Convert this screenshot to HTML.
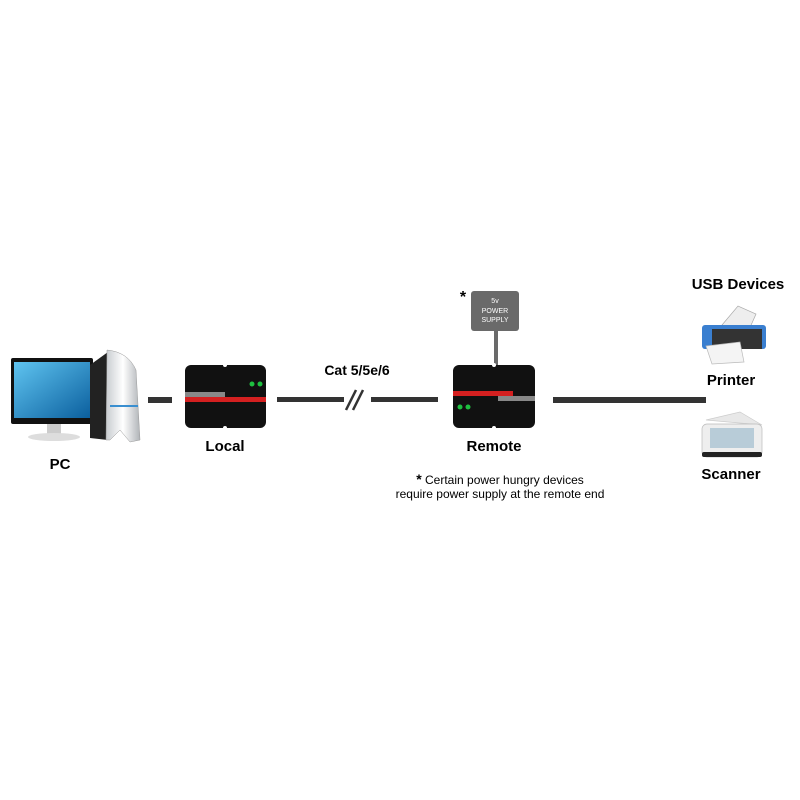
<!DOCTYPE html>
<html><head><style>
body{margin:0;background:#fff;}
svg{display:block;font-family:"Liberation Sans",sans-serif;}
</style></head><body>
<svg width="800" height="800" viewBox="0 0 800 800">
<defs>
<linearGradient id="scr" x1="0" y1="0" x2="1" y2="1"><stop offset="0" stop-color="#5fc4f0"/><stop offset="1" stop-color="#0b5f9e"/></linearGradient>
<linearGradient id="tw" x1="0" y1="0" x2="1" y2="0"><stop offset="0" stop-color="#c8ccd0"/><stop offset="0.5" stop-color="#fff"/><stop offset="1" stop-color="#b0b4b8"/></linearGradient>
</defs>
<!-- PC -->
<rect x="11" y="358" width="82" height="66" rx="2" fill="#111"/>
<rect x="14" y="362" width="76" height="56" fill="url(#scr)"/>
<rect x="47" y="424" width="14" height="10" fill="#ccc"/>
<ellipse cx="54" cy="437" rx="26" ry="4" fill="#ddd"/>
<path d="M90 365 L108 352 L108 440 L90 438Z" fill="#222"/>
<path d="M107 350 Q128 352 136 370 L140 440 L130 442 L120 430 L110 440 L106 440Z" fill="url(#tw)" stroke="#999" stroke-width="0.5"/>
<rect x="110" y="405" width="28" height="2" fill="#3a8fd0"/>
<text x="60" y="469" font-size="15" font-weight="bold" text-anchor="middle">PC</text>
<!-- lines -->
<rect x="148" y="397" width="24" height="6" fill="#333"/>
<rect x="277" y="397" width="67" height="5" fill="#333"/>
<rect x="371" y="397" width="67" height="5" fill="#333"/>
<line x1="346" y1="410" x2="356" y2="390" stroke="#333" stroke-width="2.5"/>
<line x1="353" y1="410" x2="363" y2="390" stroke="#333" stroke-width="2.5"/>
<rect x="553" y="397" width="153" height="6" fill="#333"/>
<text x="357" y="375" font-size="14" font-weight="bold" text-anchor="middle">Cat 5/5e/6</text>
<!-- Local box -->
<rect x="185" y="365" width="81" height="63" rx="6" fill="#111"/>
<circle cx="225" cy="365" r="2" fill="#fff"/><circle cx="225" cy="428" r="2" fill="#fff"/>
<rect x="185" y="397" width="81" height="5" fill="#d42020"/>
<rect x="185" y="392" width="40" height="5" fill="#888"/>
<circle cx="252" cy="384" r="2.5" fill="#1ec040"/><circle cx="260" cy="384" r="2.5" fill="#1ec040"/>
<text x="225" y="451" font-size="15" font-weight="bold" text-anchor="middle">Local</text>
<!-- Power supply -->
<rect x="471" y="291" width="48" height="40" rx="3" fill="#6a6a6a"/>
<text x="495" y="303" font-size="7" fill="#fff" text-anchor="middle">5v</text>
<text x="495" y="313" font-size="7" fill="#fff" text-anchor="middle">POWER</text>
<text x="495" y="322" font-size="7" fill="#fff" text-anchor="middle">SUPPLY</text>
<rect x="494" y="331" width="4" height="34" fill="#6a6a6a"/>
<text x="463" y="302" font-size="16" font-weight="bold" text-anchor="middle">*</text>
<!-- Remote box -->
<rect x="453" y="365" width="82" height="63" rx="6" fill="#111"/>
<circle cx="494" cy="365" r="2" fill="#fff"/><circle cx="494" cy="428" r="2" fill="#fff"/>
<rect x="453" y="391" width="60" height="5" fill="#d42020"/>
<rect x="498" y="396" width="37" height="5" fill="#888"/>
<circle cx="460" cy="407" r="2.5" fill="#1ec040"/><circle cx="468" cy="407" r="2.5" fill="#1ec040"/>
<text x="494" y="451" font-size="15" font-weight="bold" text-anchor="middle">Remote</text>
<text x="500" y="484" font-size="12" text-anchor="middle"><tspan font-weight="bold" font-size="14">*</tspan> Certain power hungry devices</text>
<text x="500" y="498" font-size="12" text-anchor="middle">require power supply at the remote end</text>
<!-- USB -->
<text x="738" y="289" font-size="15" font-weight="bold" text-anchor="middle">USB Devices</text>
<path d="M722 325 L738 306 L756 314 L748 332Z" fill="#eee" stroke="#aaa" stroke-width="0.7"/>
<rect x="702" y="325" width="64" height="24" rx="3" fill="#3a7fd0"/>
<rect x="712" y="329" width="50" height="20" fill="#333"/>
<path d="M706 346 L740 342 L744 362 L712 364Z" fill="#f4f4f4" stroke="#bbb" stroke-width="0.7"/>
<text x="731" y="385" font-size="15" font-weight="bold" text-anchor="middle">Printer</text>
<path d="M706 420 L740 412 L762 425 Z" fill="#e8e8e8" stroke="#ccc" stroke-width="0.7"/>
<rect x="702" y="424" width="60" height="33" rx="5" fill="#eee" stroke="#bbb" stroke-width="0.7"/>
<rect x="710" y="428" width="44" height="20" fill="#b8ccd8"/>
<rect x="702" y="452" width="60" height="5" rx="2" fill="#222"/>
<text x="731" y="479" font-size="15" font-weight="bold" text-anchor="middle">Scanner</text>
</svg>
</body></html>
